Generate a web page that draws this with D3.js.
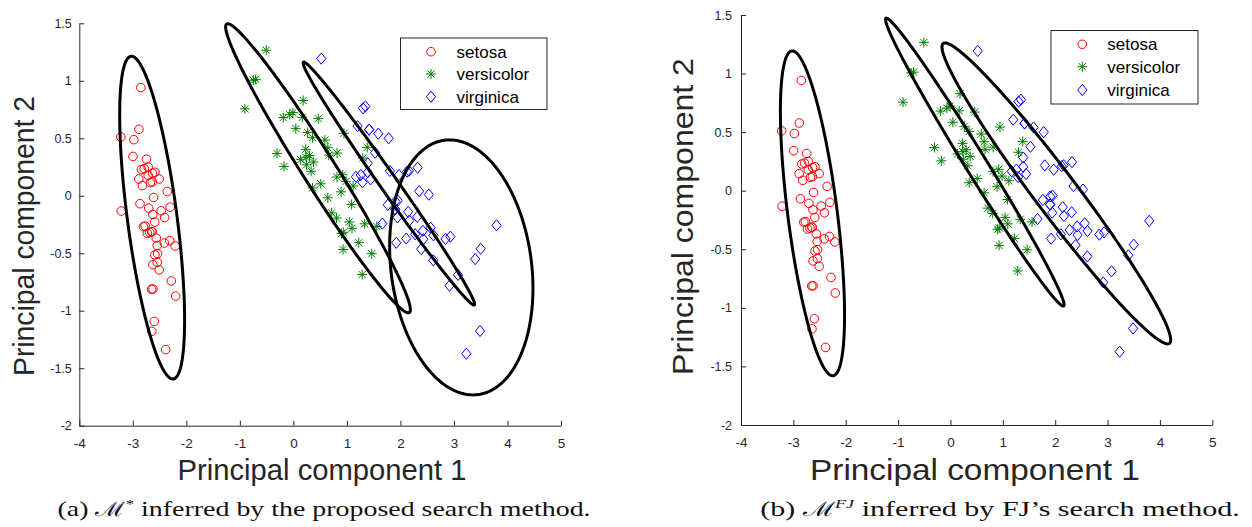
<!DOCTYPE html>
<html><head><meta charset="utf-8">
<script src="https://cdn.jsdelivr.net/npm/d3@7"></script>
<style>body{margin:0;background:#fff}svg{display:block}</style>
</head><body>
<svg id="c" width="1252" height="527"></svg>
<script>
// ---------------- data ----------------
const speciesNames = ["setosa", "versicolor", "virginica"];

const setosaPC1 = [-2.684,-2.714,-2.889,-2.745,-2.729,-2.281,-2.821,-2.626,-2.886,-2.673,-2.507,-2.613,-2.786,-3.224,-2.645,-2.386,-2.624,-2.648,-2.200,-2.588,-2.310,-2.544,-3.216,-2.303,-2.356,-2.507,-2.469,-2.562,-2.640,-2.632,-2.587,-2.410,-2.649,-2.599,-2.637,-2.866,-2.625,-2.801,-2.981,-2.590,-2.770,-2.849,-2.997,-2.406,-2.209,-2.714,-2.538,-2.839,-2.543,-2.703];
const setosaPC2 = [-0.319,0.177,0.145,0.318,-0.327,-0.741,0.089,-0.163,0.578,0.114,-0.645,-0.015,0.235,0.511,-1.179,-1.338,-0.811,-0.312,-0.873,-0.514,-0.391,-0.433,-0.133,-0.099,0.037,0.146,-0.131,-0.368,-0.312,0.197,0.204,-0.411,-0.813,-1.093,0.121,-0.069,-0.599,-0.269,0.488,-0.229,-0.264,0.941,0.342,-0.189,-0.437,0.250,-0.504,0.228,-0.579,-0.108];

const versicolorPC1 = [1.285,0.932,1.464,0.183,1.088,0.642,1.095,-0.749,1.044,-0.009,-0.508,0.512,0.265,0.985,-0.174,0.928,0.660,0.236,0.945,0.045,1.116,0.358,1.298,0.922,0.715,0.900,1.332,1.558,0.813,-0.306,-0.068,-0.190,0.136,1.380,0.588,0.807,1.221,0.815,0.246,0.166,0.465,0.891,0.231,-0.705,0.357,0.332,0.376,0.643,-0.906,0.299];
const versicolorPC2 = [-0.685,-0.318,-0.504,0.828,-0.075,0.418,-0.283,1.005,-0.228,0.723,1.266,0.104,0.550,0.125,0.255,-0.467,0.353,0.334,0.543,0.584,0.085,0.069,0.328,0.183,-0.149,-0.329,-0.244,-0.267,0.163,0.368,0.705,0.680,0.314,0.421,0.484,-0.194,-0.408,0.372,0.269,0.682,0.671,0.034,0.404,1.012,0.505,0.213,0.293,-0.018,0.756,0.349];

const virginicaPC1 = [2.531,1.415,2.617,1.972,2.350,3.397,0.521,2.933,2.321,2.917,1.662,1.803,2.166,1.346,1.586,1.904,1.950,3.487,3.796,1.301,2.428,1.199,3.500,1.389,2.275,2.614,1.259,1.291,2.124,2.388,2.842,3.231,2.159,1.444,1.781,3.076,2.144,1.905,1.169,2.108,2.314,1.922,1.415,2.563,2.419,1.944,1.527,1.764,1.901,1.390];
const virginicaPC2 = [0.010,0.575,-0.344,0.180,0.040,-0.551,1.193,-0.356,0.244,-0.783,-0.242,0.216,-0.216,0.777,0.540,-0.119,-0.042,-1.176,-0.257,0.761,-0.378,0.606,-0.461,0.204,-0.335,-0.561,0.180,0.117,0.210,-0.465,-0.375,-1.374,0.217,0.143,0.500,-0.688,-0.140,-0.049,0.165,-0.372,-0.184,-0.409,0.575,-0.278,-0.305,-0.188,0.375,-0.079,-0.117,0.283];

// inferred mixture components: centre and two conjugate semi-diameters (data units)
const compA_cx = [-2.639, 0.460, 1.784, 3.137];
const compA_cy = [-0.190, 0.239, 0.106, -0.623];
const compA_px = [0.395, 1.706, 1.597, -0.219];
const compA_py = [-1.403, -1.255, -1.056, 1.109];
const compA_qx = [-0.460, -0.261, -0.131, 1.321];
const compA_qy = [-0.028, -0.077, -0.043, 0.000];

const compB_cx = [-2.635, 0.465, 2.022];
const compB_cy = [-0.193, 0.244, -0.023];
const compB_px = [0.394, 1.696, 2.160];
const compB_py = [-1.386, -1.228, -1.280];
const compB_qx = [-0.469, -0.172, -0.322];
const compB_qy = [-0.027, -0.048, -0.109];

const xTicks = [-4,-3,-2,-1,0,1,2,3,4,5];
const xTickLabels = ["-4","-3","-2","-1","0","1","2","3","4","5"];
const yTicks = [-2,-1.5,-1,-0.5,0,0.5,1,1.5];
const yTickLabels = ["-2","-1.5","-1","-0.5","0","0.5","1","1.5"];

const xTitle = "Principal component 1";
const yTitle = "Principal component 2";

// ---------------- drawing ----------------
const svg = d3.select("#c");
const SANS = "'Liberation Sans', Arial, Helvetica, sans-serif";
const AX = "#262626";
const colors = ["#ff0000", "#008000", "#0000ff"];

function symbol(g, k, cx, cy) {
  if (k === 0) {
    g.append("circle").attr("cx", cx).attr("cy", cy).attr("r", 4.3)
      .attr("fill", "none").attr("stroke", colors[0]).attr("stroke-width", 1);
  } else if (k === 1) {
    const r = 5, d = 3.6;
    g.append("path").attr("transform", `translate(${cx},${cy})`)
      .attr("d", `M${-r},0H${r}M0,${-r}V${r}M${-d},${-d}L${d},${d}M${-d},${d}L${d},${-d}`)
      .attr("fill", "none").attr("stroke", colors[1]).attr("stroke-width", 1);
  } else {
    g.append("path").attr("transform", `translate(${cx},${cy})`)
      .attr("d", "M0,-5.6L4.6,0L0,5.6L-4.6,0Z")
      .attr("fill", "none").attr("stroke", colors[2]).attr("stroke-width", 1);
  }
}

function drawPanel(P) {
  const g = svg.append("g");
  const x = d3.scaleLinear().domain([-4, 5]).range([P.x0, P.x1]);
  const y = d3.scaleLinear().domain([-2, 1.5]).range([P.y0, P.y1]);

  const xa = d3.axisBottom(x).tickValues(xTicks).tickFormat((d, i) => xTickLabels[i])
    .tickSizeInner(-5).tickSizeOuter(0).tickPadding(12.5);
  const gx = g.append("g").attr("transform", `translate(0,${P.y0})`).call(xa);
  const ya = d3.axisLeft(y).tickValues(yTicks).tickFormat((d, i) => yTickLabels[i])
    .tickSizeInner(-5).tickSizeOuter(0).tickPadding(P.yPad);
  const gy = g.append("g").attr("transform", `translate(${P.x0},0)`).call(ya);
  [gx, gy].forEach(a => {
    a.select(".domain").attr("stroke", AX);
    a.selectAll(".tick line").attr("stroke", AX);
    a.selectAll("text").attr("fill", AX).attr("font-family", SANS);
  });
  gx.selectAll("text").attr("font-size", 13.5);
  gy.selectAll("text").attr("font-size", 12.5);

  // points
  const pts = g.append("g");
  const series = [[setosaPC1, setosaPC2], [versicolorPC1, versicolorPC2], [virginicaPC1, virginicaPC2]];
  series.forEach((s, k) => {
    s[0].forEach((v, i) => symbol(pts, k, x(v), y(s[1][i])));
  });

  // ellipses
  const ts = d3.range(0, 360, 1.5).map(d => d * Math.PI / 180);
  const line = d3.line().curve(d3.curveLinearClosed);
  P.comp.cx.forEach((cx, i) => {
    const cy = P.comp.cy[i], px = P.comp.px[i], py = P.comp.py[i], qx = P.comp.qx[i], qy = P.comp.qy[i];
    const path = ts.map(t => [x(cx + px * Math.cos(t) + qx * Math.sin(t)), y(cy + py * Math.cos(t) + qy * Math.sin(t))]);
    g.append("path").attr("d", line(path)).attr("fill", "none")
      .attr("stroke", "#000").attr("stroke-width", 3).attr("stroke-linejoin", "round");
  });

  // legend
  const L = P.leg;
  const lg = g.append("g");
  lg.append("rect").attr("x", L.x0 + 0.5).attr("y", L.y0 + 0.5).attr("width", L.x1 - L.x0).attr("height", L.y1 - L.y0)
    .attr("fill", "#fff").attr("stroke", AX).attr("stroke-width", 1);
  speciesNames.forEach((n, k) => {
    symbol(lg, k, L.mx, L.rows[k]);
    lg.append("text").attr("x", L.tx).attr("y", L.rows[k]).attr("dy", "0.35em")
      .attr("font-family", SANS).attr("font-size", 17).attr("fill", "#000").text(n);
  });

  // axis titles
  const xt = g.append("text").attr("font-family", SANS).attr("font-size", 30).attr("fill", AX)
    .attr("text-anchor", "middle").text(xTitle);
  const kx = P.xtW / xt.node().getComputedTextLength();
  xt.attr("transform", `translate(${P.xtC},${P.xtY}) scale(${kx},1)`);
  const yt = g.append("text").attr("font-family", SANS).attr("font-size", 30).attr("fill", AX)
    .attr("text-anchor", "middle").text(yTitle);
  const ky = P.ytW / yt.node().getComputedTextLength();
  yt.attr("transform", `translate(${P.ytX},${P.ytC}) rotate(-90) scale(${ky},1)`);

  // caption
  const cap = g.append("text").attr("font-family", "'Liberation Serif', 'Times New Roman', serif")
    .attr("font-size", 21.5).attr("fill", "#111").attr("text-anchor", "middle");
  cap.append("tspan").text(P.cap[0]);
  cap.append("tspan").text("\u2133").attr("font-family", "'DejaVu Serif', serif").attr("font-size", 20);
  cap.append("tspan").text(P.cap[1]).attr("font-size", 13).attr("dy", -8).attr("font-style", P.cap[1] === "*" ? "normal" : "italic");
  cap.append("tspan").text(P.cap[2]).attr("dy", 8);
  const kc = P.capW / cap.node().getComputedTextLength();
  cap.attr("transform", `translate(${P.capC},${P.capY}) scale(${kc},1)`);
}

drawPanel({
  x0: 79.3, x1: 561, y0: 425.7, y1: 23.3, yPad: 7.5,
  comp: { cx: compA_cx, cy: compA_cy, px: compA_px, py: compA_py, qx: compA_qx, qy: compA_qy },
  leg: { x0: 400, x1: 546.5, y0: 37.5, y1: 109, mx: 431, tx: 456.5, rows: [51.7, 74, 96.7] },
  xtC: 322, xtY: 480, xtW: 289,
  ytX: 34, ytC: 236, ytW: 280,
  cap: ["(a) ", "*", " inferred by the proposed search method."], capC: 324, capY: 516, capW: 533
});

drawPanel({
  x0: 741, x1: 1212.3, y0: 425, y1: 15, yPad: 9,
  comp: { cx: compB_cx, cy: compB_cy, px: compB_px, py: compB_py, qx: compB_qx, qy: compB_qy },
  leg: { x0: 1050.5, x1: 1197.5, y0: 30, y1: 103.5, mx: 1082.3, tx: 1107.3, rows: [44.3, 66.7, 90] },
  xtC: 975, xtY: 480, xtW: 330,
  ytX: 693, ytC: 216.5, ytW: 317,
  cap: ["(b) ", "FJ", " inferred by FJ\u2019s search method."], capC: 1000, capY: 516, capW: 480
});
</script>
</body></html>
